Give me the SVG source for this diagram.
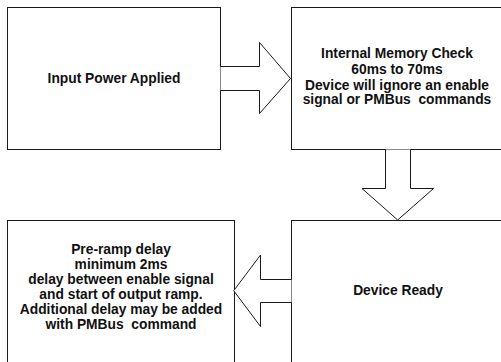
<svg xmlns="http://www.w3.org/2000/svg" width="501" height="362" viewBox="0 0 501 362">
<style>
.box{fill:#fff;stroke:#1a1a1a;stroke-width:1}
.arr{fill:#fff;stroke:#1a1a1a;stroke-width:1;stroke-linejoin:miter}
text{font-family:"Liberation Sans",Arial,sans-serif;font-weight:bold;font-size:13.8px;fill:#111;text-anchor:middle;white-space:pre}
</style>
<rect width="501" height="362" fill="#fff"/>
<g id="node-input">
<rect class="box" x="7.5" y="7.5" width="213" height="142"/>
<text x="114" y="83">Input Power Applied</text>
</g>
<g id="node-memory">
<rect class="box" x="291.5" y="7.5" width="212" height="142"/>
<text x="397" y="58" xml:space="preserve">Internal Memory Check</text>
<text x="397" y="74" xml:space="preserve">60ms to 70ms</text>
<text x="397" y="89.5" xml:space="preserve">Device will ignore an enable</text>
<text x="397" y="104" xml:space="preserve">signal or PMBus  commands</text>
</g>
<g id="node-preramp">
<rect class="box" x="7.5" y="220.5" width="227" height="160"/>
<text x="121" y="254" xml:space="preserve">Pre-ramp delay</text>
<text x="121" y="269" xml:space="preserve">minimum 2ms</text>
<text x="121" y="284" xml:space="preserve">delay between enable signal</text>
<text x="121" y="299" xml:space="preserve">and start of output ramp.</text>
<text x="121" y="314" xml:space="preserve">Additional delay may be added</text>
<text x="121" y="329" xml:space="preserve">with PMBus  command</text>
</g>
<g id="node-ready">
<rect class="box" x="291.5" y="220.5" width="212" height="160"/>
<text x="398" y="295">Device Ready</text>
</g>
<g id="connectors">
<path class="arr" d="M220.5,66.5 H259.5 V42.5 L290.5,78.5 L259.5,113.5 V90.5 H220.5"/>
<path class="arr" d="M385.5,149.5 V188.5 H362 L397.7,220 L433.5,188.5 H410.5 V149.5"/>
<path class="arr" d="M291.5,279.5 H260.5 V255 L233.7,290.7 L260.5,326.5 V302.5 H291.5"/>
</g>
</svg>
